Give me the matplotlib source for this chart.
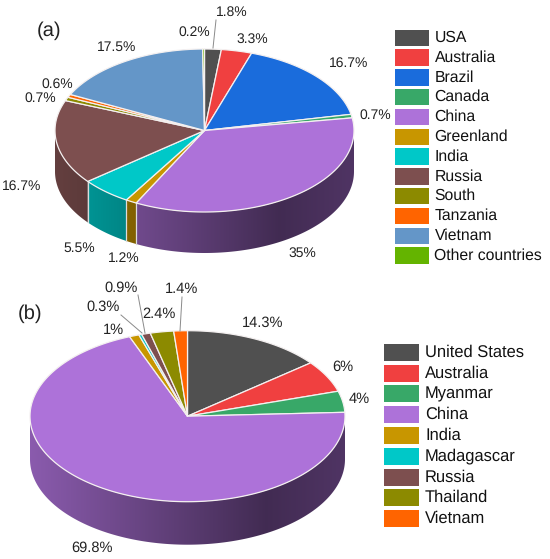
import numpy as np
import matplotlib
matplotlib.use('Agg')
import matplotlib.pyplot as plt
from matplotlib.patches import Polygon, Rectangle

plt.rcParams['font.family'] = ['Liberation Sans', 'DejaVu Sans']
plt.rcParams['text.hinting'] = 'none'

# Panel (a)
names_a = ['USA', 'Australia', 'Brazil', 'Canada', 'China', 'Greenland', 'India',
           'Russia', 'South', 'Tanzania', 'Vietnam', 'Other countries']
values_a = [1.8, 3.3, 16.7, 0.7, 35, 1.2, 5.5, 16.7, 0.7, 0.6, 17.5, 0.2]
colors_a = ['#505050', '#f04040', '#1a6cdc', '#38a868', '#ad72d9', '#c89600',
            '#00c8c8', '#7d4f4f', '#8c8a00', '#ff6400', '#6496c8', '#64b400']
labels_a = ['1.8%', '3.3%', '16.7%', '0.7%', '35%', '1.2%', '5.5%',
            '16.7%', '0.7%', '0.6%', '17.5%', '0.2%']

# Panel (b)
names_b = ['United States', 'Australia', 'Myanmar', 'China', 'India',
           'Madagascar', 'Russia', 'Thailand', 'Vietnam']
values_b = [14.3, 6, 4, 69.8, 1, 0.3, 0.9, 2.4, 1.4]
colors_b = ['#505050', '#f04040', '#38a868', '#ad72d9', '#c89600',
            '#00c8c8', '#7d4f4f', '#8c8a00', '#ff6400']
labels_b = ['14.3%', '6%', '4%', '69.8%', '1%', '0.3%', '0.9%', '2.4%', '1.4%']

# label centres in pixels, same order as the values
label_pos_a = [(232, 12), (252, 39), (349, 63), (375, 115), (302, 253), (124, 258),
               (79, 248), (22, 186), (40, 98), (57, 84), (117, 47), (194, 32)]
label_pos_b = [(263, 323), (343, 367), (359, 399), (92, 548), (113, 330),
               (103, 307), (121, 288), (159, 314), (182, 289)]


def shade(u):
    # wall gets darker to the right, then lifts a bit at the edge
    return np.interp(u, [-1, 0.5, 1], [0.80, 0.38, 0.46])


def pie3d(ax, values, colors, cx, cy, rx, ry, depth):
    values = np.array(values, dtype=float)
    edges = np.concatenate([[0], np.cumsum(values) / values.sum() * 360])
    grad_u = np.linspace(-1, 1, 400)

    # side wall, only the front half of the ellipse shows
    for i, col in enumerate(colors):
        a0 = max(edges[i], 90)
        a1 = min(edges[i + 1], 270)
        if a1 <= a0:
            continue
        t = np.radians(np.linspace(a0, a1, int(a1 - a0) + 3))
        x = cx + rx * np.sin(t)
        y = cy - ry * np.cos(t)
        pts = list(zip(x, y)) + list(zip(x[::-1], y[::-1] + depth))
        clip = Polygon(pts, closed=True, transform=ax.transData)
        base = np.array(matplotlib.colors.to_rgb(col))
        grad = (base[None, None, :] * shade(grad_u)[None, :, None])
        im = ax.imshow(grad, extent=(cx - rx, cx + rx, cy + ry + depth, cy - ry),
                       aspect='auto', interpolation='bilinear', zorder=2)
        im.set_clip_path(clip)
        # pale seam between the wall pieces
        if 90 < edges[i + 1] < 270:
            s = np.radians(edges[i + 1])
            sx, sy = cx + rx * np.sin(s), cy - ry * np.cos(s)
            ax.plot([sx, sx], [sy, sy + depth], color='#dcdcdc', lw=0.9, zorder=3)

    # top face
    for i, col in enumerate(colors):
        t = np.radians(np.linspace(edges[i], edges[i + 1], int(edges[i + 1] - edges[i]) + 3))
        pts = [(cx, cy)] + list(zip(cx + rx * np.sin(t), cy - ry * np.cos(t)))
        ax.add_patch(Polygon(pts, closed=True, facecolor=col, edgecolor='#f4f0f0',
                             lw=0.9, joinstyle='round', zorder=4))


def legend(ax, names, colors, x0, y0, w, h, step, tx, size):
    for i, (name, col) in enumerate(zip(names, colors)):
        y = y0 + i * step
        ax.add_patch(Rectangle((x0, y), w, h, facecolor=col, edgecolor='none', zorder=4))
        ax.text(tx, y + h / 2, name, fontsize=size, color='#111111', va='center', ha='left')


fig = plt.figure(figsize=(5.5, 5.59), dpi=100)
ax = fig.add_axes([0, 0, 1, 1])

pie3d(ax, values_a, colors_a, 204.5, 130.5, 149.5, 81.5, 41)
pie3d(ax, values_b, colors_b, 187.5, 416.2, 157.5, 85.5, 43)

# imshow moves the limits, so set them afterwards
ax.set_xlim(0, 550)
ax.set_ylim(559, 0)
ax.axis('off')

for txt, (x, y) in zip(labels_a, label_pos_a):
    ax.text(x, y, txt, fontsize=10, color='#222222', ha='center', va='center', zorder=6)
for txt, (x, y) in zip(labels_b, label_pos_b):
    ax.text(x, y, txt, fontsize=10.5, color='#222222', ha='center', va='center', zorder=6)

# leader lines
for (x0, y0), (x1, y1) in [((216, 20), (213, 48)), ((121, 315), (142, 333)),
                           ((138, 295), (145, 333)), ((182, 297), (180, 331))]:
    ax.plot([x0, x1], [y0, y1], color='#8a8a8a', lw=0.7, zorder=5)

ax.text(49, 31, '(a)', fontsize=14.5, color='#222222', ha='center', va='center')
ax.text(30, 314, '(b)', fontsize=14.5, color='#222222', ha='center', va='center')

legend(ax, names_a, colors_a, 394.5, 29.5, 34.5, 16.5, 19.8, 434.5, 11.3)
legend(ax, names_b, colors_b, 383.5, 343.7, 35.5, 17, 20.8, 425, 11.9)

fig.savefig('out.png', dpi=100)
